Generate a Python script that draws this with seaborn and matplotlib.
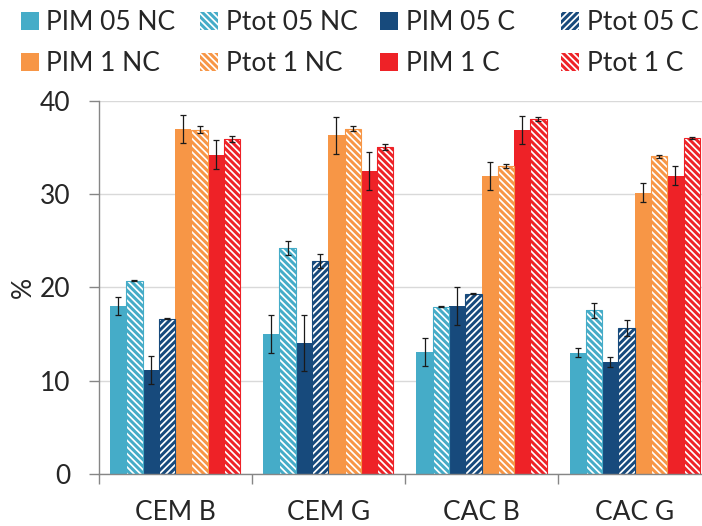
import matplotlib
matplotlib.use("Agg")
import matplotlib.pyplot as plt
import seaborn as sns
import pandas as pd
from matplotlib.patches import Patch, Rectangle

# ---------------- data ----------------
categories = ["CEM B", "CEM G", "CAC B", "CAC G"]
series = ["PIM 05 NC", "Ptot 05 NC", "PIM 05 C", "Ptot 05 C",
          "PIM 1 NC", "Ptot 1 NC", "PIM 1 C", "Ptot 1 C"]

pim05_nc = [18.0, 15.0, 13.05, 13.0]
pim05_nc_err = [1.0, 2.0, 1.5, 0.5]
ptot05_nc = [20.7, 24.2, 17.9, 17.55]
ptot05_nc_err = [0.05, 0.77, 0.05, 0.8]
pim05_c = [11.15, 14.0, 18.0, 12.0]
pim05_c_err = [1.5, 3.0, 2.0, 0.5]
ptot05_c = [16.66, 22.8, 19.3, 15.6]
ptot05_c_err = [0.05, 0.75, 0.05, 0.85]
pim1_nc = [37.0, 36.3, 31.95, 30.15]
pim1_nc_err = [1.5, 2.0, 1.5, 1.0]
ptot1_nc = [36.9, 37.0, 33.0, 34.05]
ptot1_nc_err = [0.35, 0.3, 0.25, 0.15]
pim1_c = [34.2, 32.45, 36.9, 31.95]
pim1_c_err = [1.57, 2.0, 1.5, 1.0]
ptot1_c = [35.9, 35.0, 38.0, 36.03]
ptot1_c_err = [0.35, 0.32, 0.2, 0.12]

values = [pim05_nc, ptot05_nc, pim05_c, ptot05_c, pim1_nc, ptot1_nc, pim1_c, ptot1_c]
errors = [pim05_nc_err, ptot05_nc_err, pim05_c_err, ptot05_c_err,
          pim1_nc_err, ptot1_nc_err, pim1_c_err, ptot1_c_err]

colors = ["#45ACC8", "#45ACC8", "#174A7C", "#174A7C",
          "#F79646", "#F79646", "#EE2227", "#EE2227"]
hatches = [None, "\\\\\\\\\\", None, "/////",
           None, "\\\\\\\\\\", None, "\\\\\\\\\\"]

rows = []
for s, vals in zip(series, values):
    for c, v in zip(categories, vals):
        rows.append({"Sample": c, "Series": s, "Value": v})
df = pd.DataFrame(rows)

# ---------------- style ----------------
sns.set_theme(style="white")
plt.rcParams["font.family"] = ["Lato", "DejaVu Sans"]
plt.rcParams["hatch.linewidth"] = 1.25
FS = 19
text_color = "#262626"

fig = plt.figure(figsize=(7.02, 5.26), dpi=100)
fig.patch.set_facecolor("white")
ax = fig.add_axes([98.5 / 702, 52 / 526, 612.8 / 702, 373.3 / 526])

sns.barplot(data=df, x="Sample", y="Value", hue="Series",
            order=categories, hue_order=series, palette=colors,
            width=0.85, errorbar=None, saturation=1, legend=False, ax=ax)

for cont, col, h, errs in zip(ax.containers, colors, hatches, errors):
    xs, ys = [], []
    for bar in cont:
        bar.set_linewidth(0)
        if h:
            bar.set_edgecolor("white")
            bar.set_hatch(h)
            ax.add_patch(Rectangle((bar.get_x(), bar.get_y()), bar.get_width(),
                                   bar.get_height(), fill=False,
                                   edgecolor=col, lw=0.8, zorder=bar.get_zorder() + 0.1))
        else:
            bar.set_edgecolor(col)
        xs.append(bar.get_x() + bar.get_width() / 2)
        ys.append(bar.get_height())
    ax.errorbar(xs, ys, yerr=errs, fmt="none", ecolor="#1a1a1a",
                elinewidth=0.9, capsize=2.2, capthick=0.9, zorder=5)

# ---------------- axes ----------------
ax.set_ylim(0, 40)
ax.set_xlim(-0.5, 3.5)
ax.set_yticks([0, 10, 20, 30, 40])
ax.yaxis.grid(True, color="#D9D9D9", lw=1.0)
ax.set_axisbelow(True)

ax.set_xticks([-0.5, 0.5, 1.5, 2.5, 3.5])
ax.set_xticklabels([])
ax.set_xticks(range(len(categories)), minor=True)
ax.set_xticklabels(categories, minor=True)
ax.tick_params(axis="x", which="major", direction="out", length=7,
               width=1, color="#868686", bottom=True)
ax.tick_params(axis="x", which="minor", length=0, pad=19,
               labelsize=FS, labelcolor=text_color)
ax.tick_params(axis="y", direction="out", length=7, width=1,
               color="#868686", left=True, pad=13,
               labelsize=FS, labelcolor=text_color)

for side in ["top", "right"]:
    ax.spines[side].set_visible(False)
for side in ["left", "bottom"]:
    ax.spines[side].set_color("#868686")
    ax.spines[side].set_linewidth(1)

ax.set_xlabel("")
ax.set_ylabel("%", fontsize=FS, color=text_color, labelpad=3)

# ---------------- legend: 4 equally spaced columns, 2 rows ----------------
handles = []
for s, col, h in zip(series, colors, hatches):
    if h:
        handles.append(Patch(facecolor=col, edgecolor="white", hatch=h, lw=0, label=s))
    else:
        handles.append(Patch(facecolor=col, edgecolor=col, lw=0, label=s))

ncol = 4
col_x_px = [20.7, 200, 380, 561]
for c in range(ncol):
    col_handles = [handles[c], handles[c + ncol]]
    leg = fig.legend(handles=col_handles, loc="upper left",
                     bbox_to_anchor=(col_x_px[c] / 702, 1 - 10 / 526), ncol=1,
                     frameon=False, fontsize=FS, handlelength=0.68,
                     handleheight=0.68, handletextpad=0.29,
                     labelspacing=0.62, borderpad=0, borderaxespad=0,
                     labelcolor=text_color)

fig.savefig("out.png", dpi=100, facecolor="white")
